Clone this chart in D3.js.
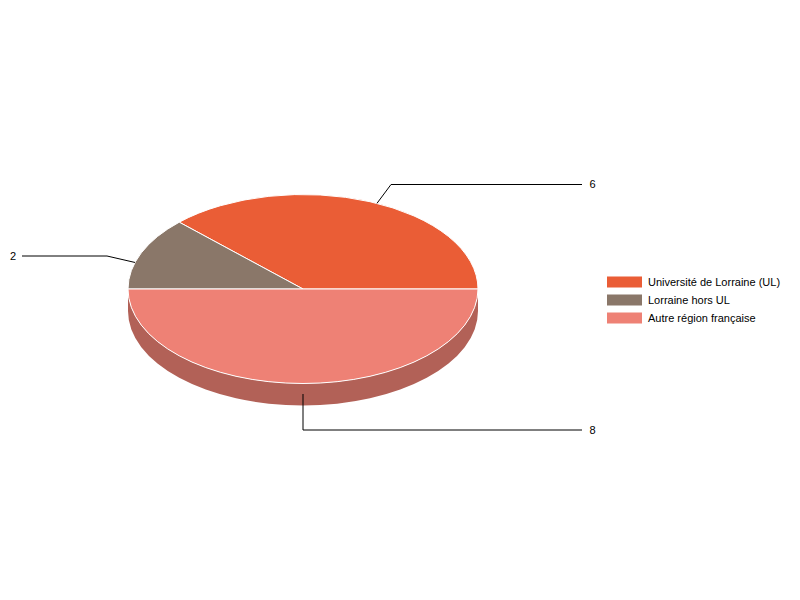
<!DOCTYPE html>
<html>
<head>
<meta charset="utf-8">
<style>
  html, body { margin: 0; padding: 0; background: #fff; }
  svg { display: block; opacity: 0.999; }
  text { font-family: "Liberation Sans", Arial, sans-serif; font-size: 11px; fill: #000; }
</style>
<script src="https://cdn.jsdelivr.net/npm/d3@7"></script>
</head>
<body>
<div id="chart"></div>
<script>
var categories = ["Université de Lorraine (UL)", "Lorraine hors UL", "Autre région française"];
var values = [6, 2, 8];
var colors = ["#ea5d36", "#8a7769", "#ee8175"];

(function() {
  const width = 800, height = 600;
  const cx = 303, cy = 289, rx = 175, ry = 94.5, depth = 22;
  const k = ry / rx;

  const svg = d3.select("#chart").append("svg")
    .attr("width", width)
    .attr("height", height);

  // starts at 3 o'clock and goes anti-clockwise
  const pie = d3.pie().sort(null)
    .startAngle(Math.PI / 2)
    .endAngle(Math.PI / 2 - 2 * Math.PI);
  const arcs = pie(values);
  const arc = d3.arc().innerRadius(0).outerRadius(rx);

  const disc = svg.append("g")
    .attr("transform", `translate(${cx},${cy}) scale(1,${k})`);

  // side wall, only the front half of the disc shows it
  const side = d3.path();
  side.arc(0, 0, rx, 0, Math.PI, false);
  side.arc(0, depth / k, rx, Math.PI, 0, true);
  side.closePath();
  disc.append("path")
    .attr("d", side.toString())
    .attr("fill", "#b26157");

  disc.selectAll("path.slice")
    .data(arcs)
    .join("path")
      .attr("class", "slice")
      .attr("d", arc)
      .attr("fill", (d, i) => colors[i])
      .attr("stroke", "#fff")
      .attr("stroke-width", 1)
      .attr("vector-effect", "non-scaling-stroke");

  // leader lines: start on the rim, elbow, then run out to the label
  const rim = (deg, extra) => [
    cx + rx * Math.cos(deg * Math.PI / 180),
    cy - ry * Math.sin(deg * Math.PI / 180) + (extra || 0)
  ];
  const leaders = [
    { pts: [rim(65), [391, 184.5], [582, 184.5]], tx: 589.5, anchor: "start" },
    { pts: [rim(163.7), [107, 256], [22, 256]], tx: 16, anchor: "end" },
    { pts: [rim(270, 10.5), [cx, 430], [582, 430]], tx: 589.5, anchor: "start" }
  ];
  const line = d3.line();

  svg.selectAll("path.leader")
    .data(leaders)
    .join("path")
      .attr("class", "leader")
      .attr("d", d => line(d.pts))
      .attr("fill", "none")
      .attr("stroke", "#000")
      .attr("stroke-width", 1);

  svg.selectAll("text.value")
    .data(leaders)
    .join("text")
      .attr("class", "value")
      .attr("x", d => d.tx)
      .attr("y", d => Math.floor(d.pts[2][1]) + 4)
      .attr("text-anchor", d => d.anchor)
      .text((d, i) => values[i]);

  // legend
  const y = d3.scalePoint().domain(categories).range([282, 318]);
  const legend = svg.selectAll("g.legend")
    .data(categories)
    .join("g")
      .attr("class", "legend")
      .attr("transform", d => `translate(607,${y(d)})`);

  legend.append("rect")
    .attr("y", -5.5)
    .attr("width", 35)
    .attr("height", 11)
    .attr("fill", (d, i) => colors[i]);

  legend.append("text")
    .attr("x", 41)
    .attr("y", 4)
    .text(d => d);
})();
</script>
</body>
</html>
